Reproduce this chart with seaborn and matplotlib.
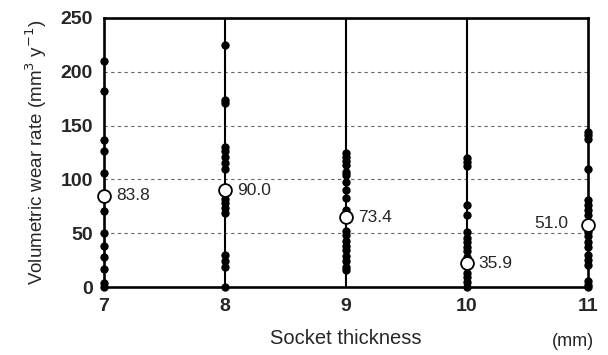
import numpy as np
import pandas as pd
import matplotlib
matplotlib.use("Agg")
import matplotlib.pyplot as plt
import seaborn as sns

thickness = [7, 8, 9, 10, 11]
wear_7 = [210, 182, 137, 126, 106, 71, 50, 38, 28, 17, 4, 0]
wear_8 = [225, 174, 171, 130, 126, 121, 115, 110, 82, 78, 73, 69, 30, 24, 19, 0]
wear_9 = [125, 121, 117, 113, 107, 104, 98, 90, 83, 72, 52, 48, 43, 38, 34, 29, 24, 19, 16]
wear_10 = [120, 116, 112, 76, 67, 51, 46, 42, 37, 33, 28, 23, 13, 9, 5, 0]
wear_11 = [144, 141, 138, 110, 81, 76, 72, 67, 51, 47, 42, 37, 30, 25, 20, 6, 2, 0]
circle_pos = [85, 90, 65, 22, 58]
mean_labels = ["83.8", "90.0", "73.4", "35.9", "51.0"]
y_ticks = [0, 50, 100, 150, 200, 250]

sns.set_theme(style="white")
plt.rcParams['font.family'] = ['Liberation Sans', 'DejaVu Sans']

rows = []
for t, vals in zip(thickness, [wear_7, wear_8, wear_9, wear_10, wear_11]):
    for v in vals:
        rows.append({"thickness": t, "wear": v})
df = pd.DataFrame(rows)
means = pd.DataFrame({"thickness": thickness, "wear": circle_pos, "label": mean_labels})

fig = plt.figure(figsize=(6.08, 3.55), dpi=100)
ax = fig.add_axes([104/608, 1-287/355, (588-104)/608, (287-18)/355])

for yv in y_ticks[1:]:
    ax.axhline(yv, color="#666666", lw=0.8, ls=(0, (3, 3)), zorder=0)
for t in thickness[1:-1]:
    ax.axvline(t, color="black", lw=1.5, zorder=1)

sns.scatterplot(data=df, x="thickness", y="wear", ax=ax, color="black",
                s=36, edgecolor="black", linewidth=0, zorder=3, clip_on=False, legend=False)
sns.scatterplot(data=means, x="thickness", y="wear", ax=ax, color="white",
                s=85, edgecolor="black", linewidth=1.3, zorder=4, clip_on=False, legend=False)

for i, r in means.iterrows():
    if r["thickness"] == thickness[-1]:
        ax.annotate(r["label"], (r["thickness"], r["wear"]), xytext=(-14, 1),
                    textcoords="offset points", ha="right", va="center", fontsize=12.5)
    else:
        ax.annotate(r["label"], (r["thickness"], r["wear"]), xytext=(8.5, 0),
                    textcoords="offset points", ha="left", va="center", fontsize=12.5)

ax.set_xlim(7, 11)
ax.set_ylim(0, 250)
ax.set_xticks(thickness)
ax.set_yticks(y_ticks)
ax.tick_params(axis="both", labelsize=14, length=0)
ax.tick_params(axis="x", pad=8)
ax.tick_params(axis="y", pad=8)
for lab in ax.get_xticklabels() + ax.get_yticklabels():
    lab.set_fontweight("bold")
for s in ax.spines.values():
    s.set_color("black")
    s.set_linewidth(1.9)

ax.set_xlabel("Socket thickness", fontsize=14.5, labelpad=10)
ax.set_ylabel("Volumetric wear rate (mm$^3$ y$^{-1}$)", fontsize=13.5, labelpad=8)
fig.text(573/608, 1-341/355, "(mm)", fontsize=13, ha="center", va="center")

fig.savefig("out.png", dpi=100)
